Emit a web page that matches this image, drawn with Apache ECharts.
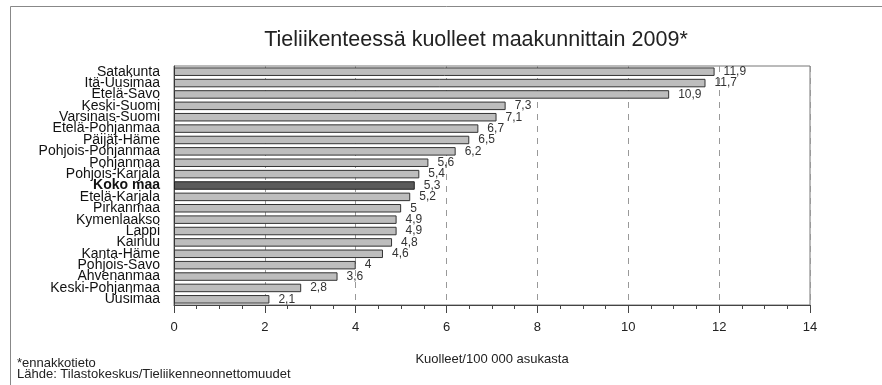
<!DOCTYPE html>
<html>
<head>
<meta charset="utf-8">
<script src="https://cdn.jsdelivr.net/npm/echarts@6/dist/echarts.min.js"></script>
<style>
html,body{margin:0;padding:0;background:#fff;}
#chart{width:882px;height:385px;}
</style>
</head>
<body>
<div id="chart"></div>
<script>
const categories = ["Satakunta","Itä-Uusimaa","Etelä-Savo","Keski-Suomi","Varsinais-Suomi","Etelä-Pohjanmaa","Päijät-Häme","Pohjois-Pohjanmaa","Pohjanmaa","Pohjois-Karjala","Koko maa","Etelä-Karjala","Pirkanmaa","Kymenlaakso","Lappi","Kainuu","Kanta-Häme","Pohjois-Savo","Ahvenanmaa","Keski-Pohjanmaa","Uusimaa"];
const values = [11.9,11.7,10.9,7.3,7.1,6.7,6.5,6.2,5.6,5.4,5.3,5.2,5.0,4.9,4.9,4.8,4.6,4.0,3.6,2.8,2.1];
const highlight = "Koko maa";
const titleText = "Tieliikenteessä kuolleet maakunnittain 2009*";
const axisName = "Kuolleet/100 000 asukasta";
const footnote1 = "*ennakkotieto";
const footnote2 = "Lähde: Tilastokeskus/Tieliikenneonnettomuudet";

const FONT = "'Liberation Sans', Arial, Helvetica, sans-serif";
const chart = echarts.init(document.getElementById('chart'), null, {renderer:'canvas'});

const barData = values.map((v,i)=>({
  value: v,
  itemStyle: categories[i]===highlight ? {color:'#5a5a5a', borderColor:'#222', borderWidth:1} : {color:'#bdbdbd', borderColor:'#333', borderWidth:1}
}));

chart.setOption({
  animation:false,
  backgroundColor:'#fff',
  textStyle:{fontFamily:FONT},
  title:{
    text:titleText, left:471, top:24, textAlign:'center',
    textStyle:{fontFamily:FONT, fontSize:21.5, fontWeight:'normal', color:'#222'}
  },
  graphic:[
    {type:'rect', shape:{x:10.5, y:6.5, width:900, height:400}, style:{fill:'none', stroke:'#888', lineWidth:1}, silent:true},
    {type:'text', left:17, top:357, style:{text:footnote1, font:'13px '+FONT, fill:'#222'}},
    {type:'text', left:17, top:368, style:{text:footnote2, font:'13px '+FONT, fill:'#222'}}
  ],
  grid:{left:174, right:72, top:66, bottom:80, show:true, borderColor:'#777', borderWidth:1, backgroundColor:'transparent'},
  xAxis:{
    type:'value', min:0, max:14, interval:2,
    name:axisName, nameLocation:'middle', nameGap:48,
    nameTextStyle:{fontFamily:FONT, fontSize:13, color:'#222'},
    axisLine:{show:true, lineStyle:{color:'#444', width:1}},
    axisTick:{show:true, inside:false, length:8, lineStyle:{color:'#444'}},
    minorTick:{show:true, splitNumber:4, length:4, lineStyle:{color:'#444'}},
    axisLabel:{fontFamily:FONT, fontSize:13, color:'#222', margin:16},
    splitLine:{show:true, lineStyle:{color:'#999', type:[6,6], width:1}}
  },
  yAxis:{
    type:'category', data:categories, inverse:true,
    axisLine:{show:true, lineStyle:{color:'#444', width:1}},
    axisTick:{show:false},
    axisLabel:{
      fontFamily:FONT, fontSize:14, color:'#111', margin:14, interval:0,
      formatter:(v)=> v===highlight ? '{b|'+v+'}' : v,
      rich:{b:{fontFamily:FONT, fontSize:14, fontWeight:'bold', color:'#111'}}
    }
  },
  series:[{
    type:'bar', data:barData, barWidth:8.5,
    label:{
      show:true, position:'right', distance:9,
      fontFamily:FONT, fontSize:12, color:'#333',
      formatter:(p)=> String(p.value).replace('.', ',')
    }
  }]
});
</script>
</body>
</html>
